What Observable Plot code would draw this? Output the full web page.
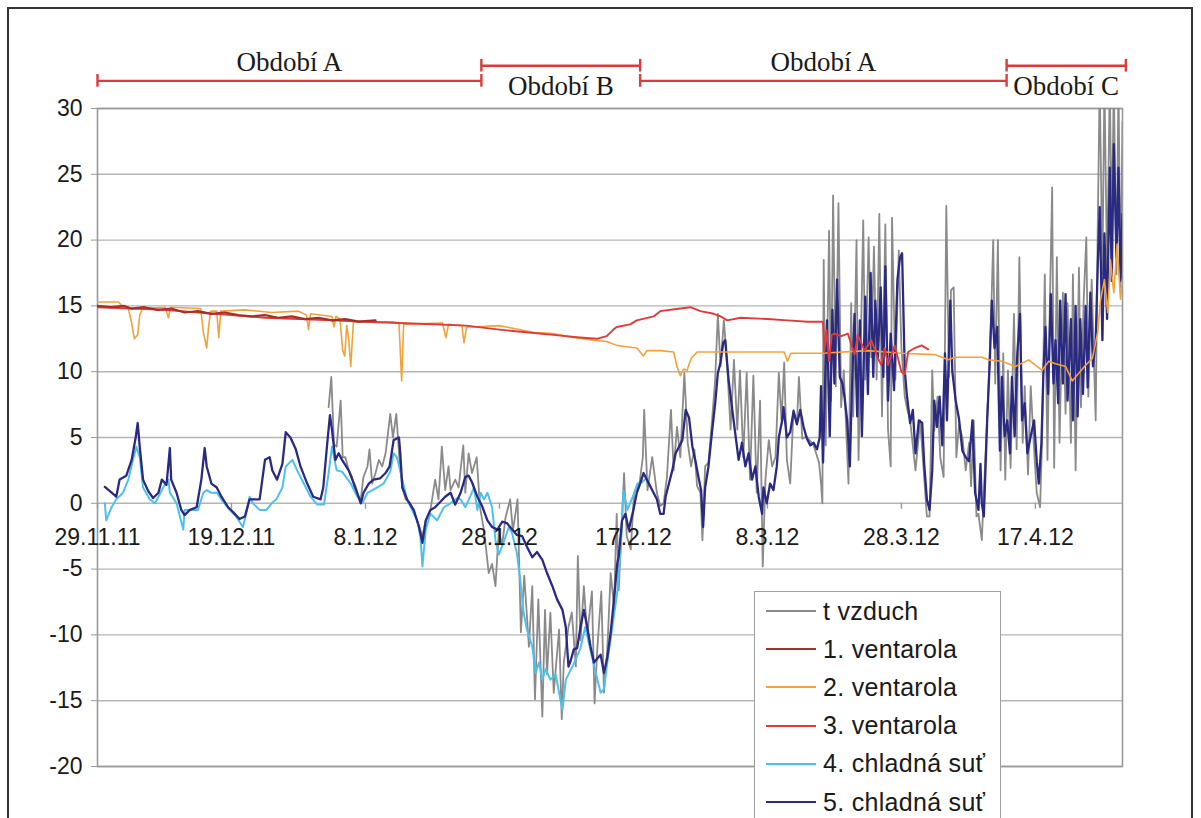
<!DOCTYPE html>
<html><head><meta charset="utf-8">
<script src="https://cdn.jsdelivr.net/npm/d3@7"></script>
<script src="https://cdn.jsdelivr.net/npm/@observablehq/plot@0.6"></script>
<style>
body{margin:0;width:1201px;height:818px;overflow:hidden;background:#fff;position:relative;font-family:"Liberation Sans",Arial,sans-serif}
#chart{position:absolute;left:0;top:0}
#frame{position:absolute;left:7px;top:7px;width:1186px;height:840px;border:2px solid #333;box-sizing:border-box;pointer-events:none}
#legend{position:absolute;left:754px;top:591px;width:247px;height:260px;background:#fff;border:1px solid #a0a0a0;box-sizing:border-box;padding-top:0}
.row{height:38.2px;display:flex;align-items:center}
.sw{margin-left:11px;width:50px;height:2px}
.lab{margin-left:7px;font-size:25px;color:#1a1a1a;letter-spacing:0.3px;white-space:nowrap}
</style></head><body>
<div id="chart"></div>
<div id="frame"></div>
<div id="legend"></div>
<script>
// days since 29.11.2011
const yTicks = [-20,-15,-10,-5,0,5,10,15,20,25,30];
const xTickDays = [0,20,40,60,80,100,120,140];
const xTickLabels = ["29.11.11","19.12.11","8.1.12","28.1.12","17.2.12","8.3.12","28.3.12","17.4.12"];

const periodLabels = ["Období A","Období B","Období A","Období C"];
const periodStart = [0,57.3,81,135.7];
const periodEnd = [57.3,81,135.7,153.5];

const seriesNames = ["t vzduch","1. ventarola","2. ventarola","3. ventarola","4. chladná suť","5. chladná suť"];
const seriesColors = ["#8a8a8a","#a3302a","#f2a23a","#de3b3b","#4fc0ea","#2b2a82"];

const tVzduch = [[34.5,7.3],[34.9,9.6],[35.3,4.5],[35.7,4.3],[36.3,7.8],[36.6,3.5],[37.0,3.5],[37.5,2.5],[38.0,2.0],[38.5,0.8],
[39.3,0.3],[39.7,2.0],[40.3,2.8],[40.6,4.1],[41.0,1.5],[41.5,2.3],[42.0,3.3],[42.5,2.8],[43.0,3.8],[43.7,6.8],
[44.1,5.0],[44.6,6.8],[45.0,3.8],[45.5,1.2],[46.0,0.3],[46.7,0],[47.7,-1.3],[48.5,-2.5],[49.0,-1.3],[49.7,-0.5],
[50.4,1.8],[50.9,0.3],[51.4,4.3],[51.9,1.0],[52.4,2.8],[52.7,1.0],[53.4,1.8],[53.9,1.2],[54.6,4.4],[54.9,0.8],
[55.4,3.8],[55.9,2.3],[56.6,3.5],[57.1,-0.3],[57.7,-2.1],[58.4,-5.3],[58.9,-4.6],[59.4,-6.3],[59.9,-2.1],[60.4,-3.2],
[60.9,-1.1],[61.6,0.3],[62.0,-2.1],[62.7,0.3],[63.2,-9.8],[63.7,-5.5],[64.4,-10.9],[64.9,-6.3],[65.3,-14.9],[65.8,-7.3],
[66.4,-16.2],[66.8,-8.1],[67.1,-13.0],[67.6,-8.3],[68.1,-14.4],[68.9,-9.6],[69.3,-16.4],[69.6,-12.1],[70.3,-9.4],[70.8,-8.3],
[71.4,-12.4],[71.7,-4.0],[72.1,-10.4],[72.6,-6.3],[73.1,-10.0],[73.8,-6.7],[74.2,-15.2],[74.6,-11.1],[75.2,-6.7],[75.6,-14.4],
[76.1,-11.1],[76.6,-5.3],[77.1,-7.9],[77.5,-0.8],[77.8,-6.6],[78.6,2.3],[79.0,-2.5],[79.6,-3.5],[80.1,0.8],[80.9,1.5],
[81.4,3.5],[81.6,7.1],[82.1,1.0],[82.8,3.5],[83.5,0.8],[84.0,-0.2],[84.5,0],[85.0,2.0],[85.6,7.1],[86.0,2.5],
[86.5,5.8],[87.0,3.5],[87.6,9.9],[88.1,4.6],[88.6,2.8],[89.1,4.1],[89.5,1.3],[90.0,0.8],[90.3,-2.8],[90.7,2.8],
[91.2,3.1],[91.7,6.1],[92.2,9.4],[92.6,14.4],[93.0,10.4],[93.5,13.9],[94.0,10.4],[94.5,5.6],[95.0,10.9],[95.5,5.6],
[95.9,10.1],[96.4,3.5],[96.9,9.9],[97.4,1.8],[97.9,9.7],[98.4,0.8],[98.9,7.8],[99.3,-4.8],[99.7,1.8],[100.2,4.8],
[100.7,2.8],[101.2,3.5],[101.7,9.9],[102.1,6.3],[102.5,10.7],[102.9,3.3],[103.4,1.5],[103.9,7.1],[104.4,6.0],[104.7,9.6],
[105.2,4.9],[105.8,5.1],[106.9,4.4],[107.7,3.1],[108.0,1.5],[108.2,0.0],[108.4,18.5],[108.7,4.4],[109.2,20.7],[109.5,7.8],
[109.8,23.4],[110.2,8.9],[110.6,22.8],[111.0,7.3],[111.4,10.1],[111.8,5.1],[112.1,1.5],[112.5,15.2],[112.8,6.6],[113.3,20.0],
[113.6,3.3],[114.3,21.5],[114.6,9.4],[115.1,20.2],[115.5,11.1],[115.9,19.5],[116.3,9.4],[116.7,22.0],[117.1,6.6],[117.6,21.2],
[118.0,5.6],[118.4,2.8],[118.6,21.7],[119.1,9.4],[119.6,19.2],[120.0,11.8],[120.5,8.1],[120.8,7.3],[121.3,6.3],[122.1,2.5],
[122.8,6.3],[123.8,-1.0],[124.2,-1.0],[124.6,10.1],[124.9,5.5],[125.4,8.1],[125.8,3.5],[126.3,2.0],[126.7,22.6],[127.1,9.6],
[127.4,16.2],[127.8,16.4],[128.2,3.5],[128.6,6.0],[129.1,5.0],[129.6,2.5],[130.1,4.6],[130.4,1.3],[130.8,6.3],[131.2,-1.0],
[131.5,-0.8],[132.0,-2.8],[132.5,3.1],[133.0,8.9],[133.4,14.4],[133.7,20.0],[134.0,9.1],[134.4,20.0],[134.8,2.5],[135.2,11.4],
[135.5,1.8],[135.9,10.1],[136.3,2.7],[136.8,14.4],[137.2,4.1],[137.6,18.7],[138.1,4.6],[138.4,8.9],[138.9,2.2],[139.3,8.9],
[139.8,4.1],[140.2,0.8],[140.7,-0.3],[141.0,5.0],[141.4,17.4],[141.8,3.3],[142.1,13.6],[142.5,24.0],[142.8,2.7],[143.2,18.7],
[143.6,4.6],[144.1,16.0],[144.5,6.8],[144.8,15.2],[145.3,4.6],[145.6,17.4],[146.0,2.5],[146.5,17.9],[146.8,7.3],[147.2,15.4],
[147.6,20.2],[147.9,8.1],[148.4,17.0],[149.0,6.3],[149.3,20.9],[149.6,32],[150.0,17.4],[150.3,32],[150.7,17.4],[151.1,32],
[151.4,20.2],[151.7,32],[152.1,17.4],[152.4,32],[152.7,16.4],[153.0,29]];

const ventarola1 = [[0,15.0],[2,14.9],[4,15.0],[5,14.8],[7,14.9],[9,14.7],[11,14.8],[13,14.5],[15,14.6],[17,14.4],
[19,14.5],[21,14.3],[23,14.2],[25,14.3],[27,14.1],[29,14.2],[31,14.0],[33,14.1],[35,13.9],[37,14.0],[39,13.8],[41.5,13.9]];

const ventarola2 = [[0,15.3],[3.1,15.3],[3.7,15.0],[4.6,14.8],[5.1,13.7],[5.5,12.5],[6.0,12.8],[6.3,14.3],[6.7,14.8],[10.1,14.9],
[10.6,14.1],[10.9,14.9],[15.4,14.8],[15.8,13.0],[16.3,11.8],[16.6,13.5],[16.9,14.6],[17.8,14.6],[18.1,12.6],[18.4,14.6],
[22,14.7],[26,14.5],[30,14.6],[31.2,14.3],[31.5,13.2],[31.8,14.4],[35,14.2],[35.3,13.4],[35.6,14.2],[36.2,14.0],
[36.6,11.6],[36.9,11.2],[37.2,13.5],[37.5,12.5],[37.8,10.4],[38.2,13.8],[44,13.8],[45,13.7],[45.2,11.5],[45.4,9.3],
[45.7,13.6],[51.5,13.7],[52.0,12.6],[52.4,13.6],[54.4,13.5],[54.7,12.2],[55.1,13.4],[56,13.4],[60,13.5],[62,13.3],
[65,13.0],[68,12.9],[71,12.6],[74,12.4],[76,12.3],[77.5,12.0],[79,11.9],[80.5,11.8],[81.5,11.2],[82,11.6],
[84,11.6],[86,11.5],[86.5,10.4],[87,9.7],[87.5,10.2],[88,10.1],[88.6,11.0],[89.5,11.5],[100,11.5],[102.5,11.5],
[103,10.8],[103.5,11.4],[108,11.4],[115,11.6],[120,11.4],[125,11.3],[127,10.9],[128,11.1],[132,11.1],[133,10.9],
[135,10.8],[137,10.4],[139,10.9],[140,10.5],[141,10.1],[142,10.8],[143,10.6],[144.5,10.4],[145.5,9.3],[146.5,9.9],
[147.5,10.5],[148.5,11.0],[149.3,13],[149.7,15.4],[150.3,17.0],[150.8,14.5],[151.2,18.5],[151.7,16.0],[152.2,19.7],[152.7,15.5],[153,17.0]];

const ventarola3 = [[0,14.9],[5,14.8],[10,14.7],[15,14.5],[20,14.3],[25,14.1],[30,14.0],[35,13.9],[40,13.8],[45,13.7],
[50,13.6],[55,13.5],[60,13.2],[64,13.0],[68,12.8],[72,12.6],[74.5,12.5],[76,12.7],[77,13.2],[77.5,13.4],
[79.5,13.6],[80.5,13.9],[83,14.2],[84,14.6],[87,14.8],[88.5,14.9],[90,14.6],[92,14.4],[93,14.2],[94,13.9],
[96,14.1],[100,14.0],[103,13.9],[106,13.8],[108.3,13.8],[108.5,11.5],[108.8,13.2],[109.2,10.8],[109.6,12.8],[110,12.9],
[111,12.7],[112,12.9],[113,11.3],[113.5,12.8],[114.5,11.6],[115.5,12.4],[116.5,11.0],[117,10.5],[117.5,11.8],[118,10.5],
[119,12.0],[120,10.0],[120.5,9.8],[121,11.5],[122,11.8],[123,12.0],[124,11.7]];

const sut4 = [[1.1,0],[1.3,-1.3],[2.1,-0.3],[2.8,0.3],[3.8,0.8],[4.6,1.8],[5.3,3.3],[5.8,4.3],[6.3,3.5],[6.8,1.2],
[7.8,0.3],[8.6,0],[9.8,1.2],[10.6,1.8],[10.8,0.8],[11.8,0],[12.8,-2.0],[13.0,-0.5],[14.3,-0.5],[15.0,-0.5],
[15.8,0.8],[16.3,1.0],[17.0,0.8],[17.8,0.8],[18.5,0.3],[19.7,-0.5],[20.7,-1.0],[21.7,-1.8],[22.2,-0.8],[22.7,0.5],
[23.2,0],[24.2,-0.5],[25.2,-0.5],[26.0,0],[26.7,0.3],[27.6,1.2],[28.1,2.8],[29.1,3.3],[29.8,2.5],[30.8,1.5],
[31.8,0.5],[32.8,-0.1],[33.8,-0.1],[34.5,2.3],[35.0,4.3],[35.7,2.5],[36.5,2.4],[37.8,1.5],[38.8,0.5],[39.5,0],
[40.3,0.8],[41.7,1.2],[42.7,1.5],[43.7,2.4],[44.2,3.8],[44.7,3.5],[45.5,1.8],[46.2,0.3],[47.7,-1.3],[48.2,-2.5],
[48.5,-4.8],[49.0,-2.0],[49.7,-0.8],[50.7,-1.3],[51.7,-0.3],[52.7,0],[53.7,0.4],[54.2,0.3],[54.9,-0.3],[55.7,0.6],
[56.2,1.2],[56.7,-0.5],[57.2,0.8],[57.7,0.3],[58.2,0.8],[58.9,-0.3],[59.4,-2.8],[59.9,-3.9],[60.6,-3.0],[61.4,-1.8],
[61.9,-2.3],[62.6,-3.8],[63.1,-5.8],[63.6,-8.3],[64.1,-9.6],[64.9,-10.9],[65.4,-12.9],[65.9,-12.1],[66.4,-13.4],[66.9,-12.6],
[67.6,-13.4],[68.4,-13.0],[68.9,-14.4],[69.4,-15.7],[69.9,-13.4],[70.3,-13.0],[71.0,-12.3],[72.1,-11.0],[72.8,-9.4],[73.6,-11.2],
[74.3,-12.7],[75.1,-14.4],[75.6,-14.1],[76.1,-12.1],[76.8,-9.6],[77.6,-6.7],[78.1,-3.5],[78.5,1.0],[79.1,-0.5],[79.9,0.5],
[80.6,1.5],[81.3,1.6],[82.1,2.0]];

const sut5 = [[1.1,1.25],[2.8,0.5],[3.3,1.8],[4.3,2.1],[5.1,3.3],[5.7,5.0],[6.0,6.1],[6.3,4.3],[6.8,1.8],[7.6,0.9],
[8.3,0.4],[9.1,0.8],[9.6,1.8],[10.3,1.4],[10.8,4.2],[11.0,1.8],[11.8,0.8],[12.5,-0.5],[13.0,-0.9],[13.8,-0.5],
[14.8,-0.3],[15.5,1.8],[16.0,4.2],[16.3,2.8],[17.0,1.5],[17.8,1.2],[18.5,0.5],[19.5,-0.3],[20.3,-0.7],[21.2,-1.2],
[22.0,-1.0],[22.7,0.3],[24.2,0.3],[25.0,3.3],[25.7,3.5],[26.1,2.5],[26.8,1.8],[27.6,3.0],[28.1,5.4],[28.8,5.0],
[29.6,4.1],[30.3,2.8],[31.3,1.5],[32.2,0.5],[33.3,0.3],[33.7,1.2],[34.3,4.6],[34.7,6.7],[35.0,5.6],[35.5,3.3],
[36.0,3.8],[36.5,3.3],[37.5,2.5],[38.5,1.2],[39.3,0],[39.7,0.8],[40.5,1.5],[41.2,1.8],[42.2,1.9],[43.0,2.3],
[43.6,2.8],[44.2,4.8],[45.0,5.0],[45.2,3.8],[45.5,1.2],[46.2,0.3],[47.2,-0.5],[48.0,-1.8],[48.5,-3.0],[49.0,-1.3],
[49.7,-0.5],[50.4,-0.3],[51.9,0.5],[52.7,0.8],[53.4,-0.1],[54.2,0.8],[54.9,2.0],[55.4,2.1],[55.9,1.6],[56.7,0.5],
[57.4,-0.2],[58.2,-1.3],[58.9,-1.8],[59.7,-2.0],[60.4,-1.4],[61.1,-1.5],[62.6,-2.4],[63.4,-2.5],[64.1,-3.3],[64.9,-4.1],
[65.6,-3.7],[66.4,-4.3],[67.1,-5.3],[67.9,-6.3],[68.6,-7.3],[69.4,-8.1],[69.9,-9.4],[70.1,-10.9],[70.3,-12.4],[70.6,-12.0],
[71.1,-11.1],[71.6,-11.0],[72.1,-9.4],[72.6,-8.1],[73.1,-9.4],[73.6,-10.9],[74.1,-12.1],[74.6,-11.8],[75.1,-11.5],[75.6,-12.9],
[76.1,-11.7],[76.6,-9.8],[77.1,-7.3],[77.6,-4.5],[77.8,-4.0],[78.3,-1.3],[78.8,-0.8],[79.3,-2.0],[80.0,-0.5],[80.5,0.8],
[81.0,1.5],[81.5,2.3],[82.0,1.8],[83.0,0.8],[83.5,0.3],[84.0,-0.8],[84.5,-0.8],[84.8,0.5],[85.3,1.5],[85.8,2.5],
[86.3,3.8],[86.8,4.3],[87.3,4.8],[87.8,7.1],[88.3,6.5],[88.8,4.3],[89.3,3.1],[89.7,2.0],[90.1,1.0],[90.4,-1.8],
[90.7,1.2],[91.2,2.8],[91.7,5.3],[92.2,7.6],[92.6,9.9],[93.0,10.7],[93.4,12.2],[93.7,12.4],[94.2,9.4],[94.7,7.3],
[95.2,5.3],[95.7,3.3],[96.2,4.6],[96.7,2.8],[97.2,3.8],[97.7,1.8],[98.2,2.8],[98.7,0.5],[99.2,-0.8],[99.4,1.2],
[99.9,0],[100.4,1.5],[100.9,1.0],[101.4,2.8],[101.7,5.0],[102.2,6.3],[102.4,7.3],[102.9,5.0],[103.4,5.4],[103.9,7.0],
[104.4,6.0],[104.9,7.1],[105.4,5.8],[105.9,4.9],[106.4,4.4],[106.9,4.6],[107.4,4.1],[107.8,5.0],[108.0,8.9],[108.3,3.1],
[108.6,9.1],[108.9,13.9],[109.3,5.1],[109.7,14.7],[110.0,9.1],[110.4,17.0],[110.8,9.6],[111.2,9.1],[111.5,8.1],[111.9,6.3],
[112.3,2.8],[112.6,8.6],[113.0,14.4],[113.4,6.6],[113.8,13.9],[114.1,5.1],[114.6,15.7],[115.0,8.3],[115.4,17.5],[115.8,9.6],
[116.1,15.4],[116.5,11.1],[116.9,16.4],[117.3,9.6],[117.6,18.0],[118.0,7.8],[118.4,12.9],[118.9,8.6],[119.4,17.0],[119.8,18.7],
[120.1,19.0],[120.5,10.1],[120.8,8.3],[121.3,6.1],[121.7,7.1],[122.1,3.8],[122.6,6.3],[123.1,6.1],[123.4,3.0],[123.8,0.3],
[124.2,-0.5],[124.6,2.5],[124.9,7.8],[125.3,5.8],[125.7,8.1],[126.1,4.4],[126.5,11.4],[126.8,6.3],[127.3,15.4],[127.6,10.0],
[128.1,7.8],[128.6,6.4],[129.1,4.0],[129.6,3.5],[130.1,3.2],[130.6,6.3],[130.8,3.5],[131.0,0.8],[131.5,-0.5],[131.8,3.0],
[132.0,0.0],[132.3,-1.0],[132.8,6.3],[133.2,10.9],[133.5,15.4],[133.9,11.8],[134.3,13.4],[134.7,4.0],[135.0,9.6],[135.4,5.1],
[135.8,6.3],[136.2,3.8],[136.5,9.6],[136.9,5.1],[137.3,11.4],[137.7,14.4],[138.0,6.3],[138.4,7.6],[138.8,3.8],[139.3,5.1],
[139.8,6.3],[140.2,3.2],[140.5,1.5],[140.9,4.6],[141.2,10],[141.5,13.4],[141.9,8.3],[142.3,15.9],[142.7,9.1],[143.0,12.4],
[143.4,7.6],[143.7,15.4],[144.1,9.1],[144.5,15.9],[144.8,7.8],[145.3,14.0],[145.6,6.3],[146.0,15.0],[146.3,6.6],[146.7,14.0],
[147.1,8.3],[147.5,15.0],[147.8,8.8],[148.2,16.0],[148.6,10.4],[149.0,12.4],[149.3,18.0],[149.6,22.5],[150.0,12.4],[150.3,20.5],
[150.7,14.0],[151.1,25.5],[151.4,16.9],[151.7,27.3],[152.1,18.7],[152.4,25.5],[152.7,16.9],[153.0,22]];

// ---- drawing ----
const toRows = arr => arr.map(([d, v]) => ({d, v}));
const seriesData = [tVzduch, ventarola1, ventarola2, ventarola3, sut4, sut5].map(toRows);
const widths = [1.8, 2.2, 1.6, 1.9, 2.0, 2.3];
const drawOrder = [0, 4, 5, 2, 3, 1];

const periods = periodLabels.map((label, i) => ({
  label, start: periodStart[i], end: periodEnd[i], mid: (periodStart[i] + periodEnd[i]) / 2, row: i % 2
}));
// vertical layout of the period annotations (in y units above the plot)
const barLevel = [32.1, 33.25];
const textLevel = [33.5, 31.7];
const capHalf = 0.48;
const caps = periods.flatMap(p => [{d: p.start, row: p.row}, {d: p.end, row: p.row}]);

const chart = Plot.plot({
  width: 1201, height: 818,
  marginLeft: 97, marginRight: 79, marginTop: 108, marginBottom: 52,
  x: {domain: [0, 153], axis: null},
  y: {domain: [-20, 30], axis: null, label: null},
  style: {fontFamily: "Liberation Sans, Arial, sans-serif", background: "transparent", overflow: "visible"},
  marks: [
    Plot.ruleY(yTicks, {stroke: "#b5b5b5", strokeWidth: 1.4}),
    Plot.frame({stroke: "#9a9a9a", strokeWidth: 1.6}),
    Plot.axisY({ticks: yTicks, label: null, tickSize: 6, tickPadding: 9, fontSize: 23, stroke: "#9a9a9a", fill: "#1a1a1a", tickFormat: d => String(d)}),
    Plot.ruleX(xTickDays, {x: d => d, y1: 0, y2: -0.45, stroke: "#9a9a9a", strokeWidth: 1.4}),
    ...drawOrder.map(k => Plot.line(seriesData[k], {x: "d", y: "v", stroke: seriesColors[k], strokeWidth: widths[k], clip: true, strokeLinejoin: "round"})),
    Plot.text(xTickDays, {x: d => d, y: 0, text: (d, i) => xTickLabels[i], dy: 34, fontSize: 23, fill: "#1a1a1a"}),
    Plot.ruleY(periods, {y: p => barLevel[p.row], x1: "start", x2: "end", stroke: "#dd3a3a", strokeWidth: 2.4}),
    Plot.ruleX(caps, {x: "d", y1: c => barLevel[c.row] - capHalf, y2: c => barLevel[c.row] + capHalf, stroke: "#dd3a3a", strokeWidth: 2.4}),
    Plot.text(periods, {x: "mid", y: p => textLevel[p.row], text: "label", fontSize: 27, fontFamily: "Liberation Serif, Times New Roman, serif", fill: "#1a1a1a"})
  ]
});
document.getElementById("chart").appendChild(chart);

const legend = document.getElementById("legend");
seriesNames.forEach((name, i) => {
  const row = document.createElement("div");
  row.className = "row";
  row.innerHTML = `<div class="sw" style="background:${seriesColors[i]}"></div><div class="lab">${name}</div>`;
  legend.appendChild(row);
});
</script>
</body></html>
